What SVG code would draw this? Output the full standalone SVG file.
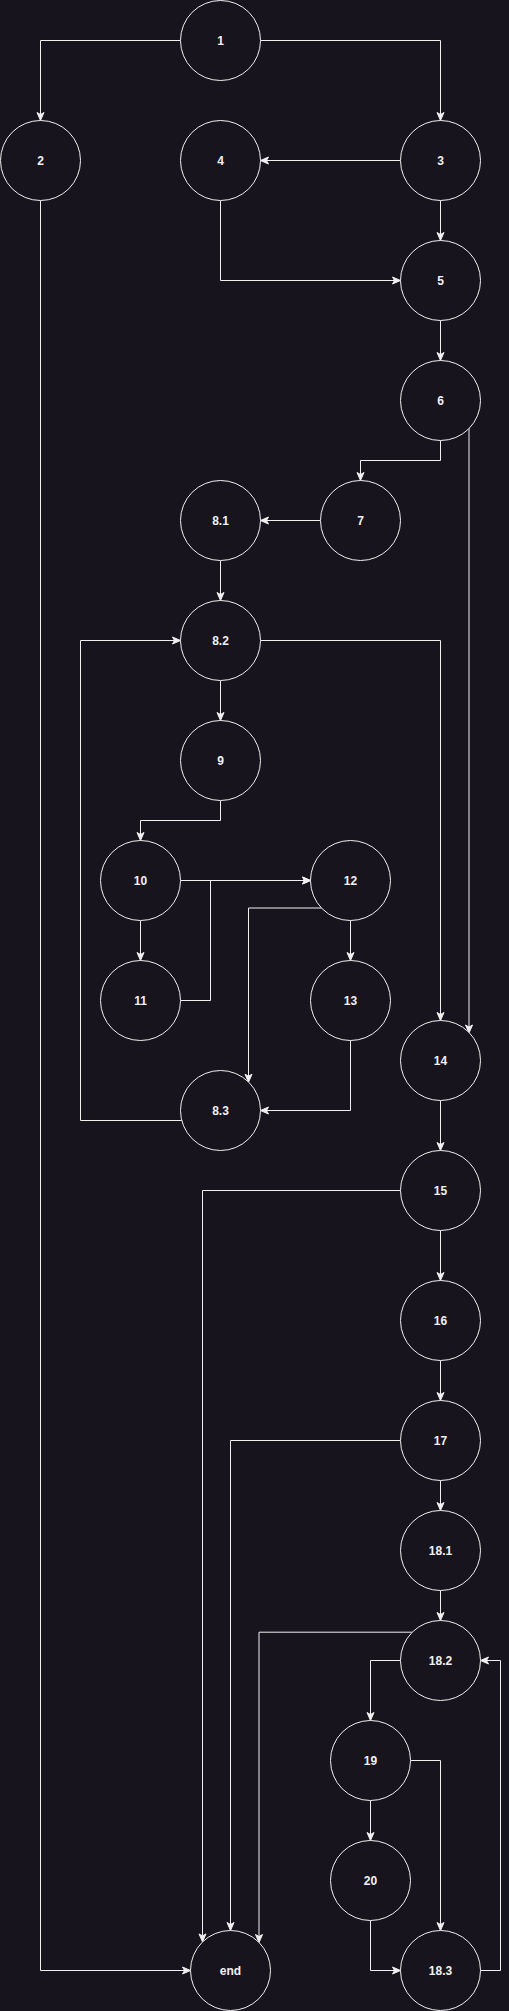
<svg xmlns="http://www.w3.org/2000/svg" width="509" height="2011" viewBox="0 0 509 2011">
<style>
.n circle{fill:#18141d;stroke:#f0f0f0;stroke-width:1}
.n text{font-family:"Liberation Sans",Arial,Helvetica,sans-serif;font-size:12px;font-weight:bold;fill:#f0f0f0;text-anchor:middle;dominant-baseline:central}
.e path{fill:none;stroke:#f0f0f0;stroke-width:1;marker-end:url(#arr)}
</style>
<defs>
<marker id="arr" markerUnits="userSpaceOnUse" markerWidth="12" markerHeight="12" viewBox="-10 -6 12 12" refX="0" refY="0" orient="auto">
<path d="M-8,-3.5 L0,0 L-8,3.5 L-6,0 Z" fill="#f0f0f0" stroke="#f0f0f0" stroke-width="1"/>
</marker>
</defs>
<rect x="0" y="0" width="509" height="2011" fill="#18141d"/>
<g transform="translate(0.5,0.5)">
<g id="connectors" class="e">
<path d="M180,40 H40 V120"/>
<path d="M260,40 H440 V120"/>
<path d="M400,160 H260"/>
<path d="M440,200 V240"/>
<path d="M220,200 V280 H400"/>
<path d="M40,200 V1970 H190"/>
<path d="M440,320 V360"/>
<path d="M440,440 V460 H360 V480"/>
<path d="M320,520 H260"/>
<path d="M220,560 V600"/>
<path d="M468.5,427.5 V1032.5"/>
<path d="M260,640 H440 V1020"/>
<path d="M181.3,1120 H80 V640 H180"/>
<path d="M220,680 V720"/>
<path d="M220,800 V820 H140 V840"/>
<path d="M180,880 H310"/>
<path d="M140,920 V960"/>
<path d="M180,1000 H210 V880 H310"/>
<path d="M350,920 V960"/>
<path d="M321,907.5 H248 V1081.7"/>
<path d="M350,1040 V1110 H260"/>
<path d="M440,1100 V1150"/>
<path d="M440,1230 V1280"/>
<path d="M400,1190 H202 V1941.4"/>
<path d="M440,1360 V1400"/>
<path d="M440,1480 V1510"/>
<path d="M400,1440 H230 V1930"/>
<path d="M440,1590 V1620"/>
<path d="M411.7,1631.7 H258.5 V1942"/>
<path d="M400,1660 H370 V1720"/>
<path d="M370,1800 V1840"/>
<path d="M410,1760 H440 V1930"/>
<path d="M370,1920 V1970 H400"/>
<path d="M480,1970 H500 V1660 H480"/>
</g>
<g id="n1" class="n"><circle cx="220" cy="40" r="40"/><text x="220" y="40">1</text></g>
<g id="n2" class="n"><circle cx="40" cy="160" r="40"/><text x="40" y="160">2</text></g>
<g id="n3" class="n"><circle cx="440" cy="160" r="40"/><text x="440" y="160">3</text></g>
<g id="n4" class="n"><circle cx="220" cy="160" r="40"/><text x="220" y="160">4</text></g>
<g id="n5" class="n"><circle cx="440" cy="280" r="40"/><text x="440" y="280">5</text></g>
<g id="n6" class="n"><circle cx="440" cy="400" r="40"/><text x="440" y="400">6</text></g>
<g id="n7" class="n"><circle cx="360" cy="520" r="40"/><text x="360" y="520">7</text></g>
<g id="n8_1" class="n"><circle cx="220" cy="520" r="40"/><text x="220" y="520">8.1</text></g>
<g id="n8_2" class="n"><circle cx="220" cy="640" r="40"/><text x="220" y="640">8.2</text></g>
<g id="n9" class="n"><circle cx="220" cy="760" r="40"/><text x="220" y="760">9</text></g>
<g id="n10" class="n"><circle cx="140" cy="880" r="40"/><text x="140" y="880">10</text></g>
<g id="n11" class="n"><circle cx="140" cy="1000" r="40"/><text x="140" y="1000">11</text></g>
<g id="n12" class="n"><circle cx="350" cy="880" r="40"/><text x="350" y="880">12</text></g>
<g id="n13" class="n"><circle cx="350" cy="1000" r="40"/><text x="350" y="1000">13</text></g>
<g id="n8_3" class="n"><circle cx="220" cy="1110" r="40"/><text x="220" y="1110">8.3</text></g>
<g id="n14" class="n"><circle cx="440" cy="1060" r="40"/><text x="440" y="1060">14</text></g>
<g id="n15" class="n"><circle cx="440" cy="1190" r="40"/><text x="440" y="1190">15</text></g>
<g id="n16" class="n"><circle cx="440" cy="1320" r="40"/><text x="440" y="1320">16</text></g>
<g id="n17" class="n"><circle cx="440" cy="1440" r="40"/><text x="440" y="1440">17</text></g>
<g id="n18_1" class="n"><circle cx="440" cy="1550" r="40"/><text x="440" y="1550">18.1</text></g>
<g id="n18_2" class="n"><circle cx="440" cy="1660" r="40"/><text x="440" y="1660">18.2</text></g>
<g id="n19" class="n"><circle cx="370" cy="1760" r="40"/><text x="370" y="1760">19</text></g>
<g id="n20" class="n"><circle cx="370" cy="1880" r="40"/><text x="370" y="1880">20</text></g>
<g id="n18_3" class="n"><circle cx="440" cy="1970" r="40"/><text x="440" y="1970">18.3</text></g>
<g id="nend" class="n"><circle cx="230" cy="1970" r="40"/><text x="230" y="1970">end</text></g>
</g>
</svg>
